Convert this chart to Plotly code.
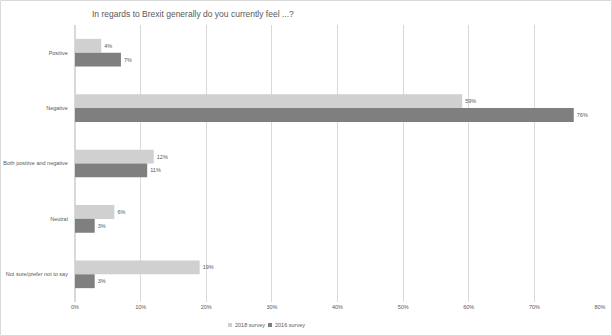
import plotly.graph_objects as go

categories = ["Positive", "Negative", "Both positive and negative", "Neutral", "Not sure/prefer not to say"]
survey_2018 = [4, 59, 12, 6, 19]
survey_2016 = [7, 76, 11, 3, 3]
x_ticks = [0, 10, 20, 30, 40, 50, 60, 70, 80]
x_tick_labels = [f"{v}%" for v in x_ticks]
series_names = ["2018 survey", "2016 survey"]
series_colors = ["#d0d0d0", "#7f7f7f"]

W, H = 612, 336
L, R, T, B = 75, 12, 25, 34
FONT = "Liberation Sans, Arial, sans-serif"

fig = go.Figure()
for name, vals, col in zip(series_names, [survey_2018, survey_2016], series_colors):
    fig.add_trace(go.Bar(
        y=categories, x=vals, orientation="h", name=name,
        marker=dict(color=col, line=dict(width=0)),
        text=[f"{v}%" for v in vals], textposition="outside",
        textfont=dict(size=5.5, color="#595959"), cliponaxis=False,
        showlegend=False,
    ))

pw = W - L - R
ph = H - T - B


def px_x(px):
    return (px - L) / pw


def px_y(py):
    return (H - B - py) / ph


# chart border
fig.add_shape(type="rect", xref="paper", yref="paper",
              x0=px_x(0.5), x1=px_x(W - 0.5), y0=px_y(H - 0.5), y1=px_y(0.5),
              line=dict(color="#d9d9d9", width=1), fillcolor="rgba(0,0,0,0)", layer="below")

# legend (small square keys + labels)
legend_starts = [228, 268]
legend_y = 325
for name, col, x0 in zip(series_names, series_colors, legend_starts):
    fig.add_shape(type="rect", xref="paper", yref="paper",
                  x0=px_x(x0), x1=px_x(x0 + 4), y0=px_y(legend_y + 2), y1=px_y(legend_y - 2),
                  line=dict(width=0), fillcolor=col)
    fig.add_annotation(xref="paper", yref="paper", x=px_x(x0 + 5), y=px_y(legend_y),
                       text=name, showarrow=False, xanchor="left", yanchor="middle",
                       font=dict(size=5.5, color="#595959"))

fig.update_layout(
    width=W, height=H,
    margin=dict(l=L, r=R, t=T, b=B),
    paper_bgcolor="white", plot_bgcolor="white",
    barmode="group", bargap=0.5, bargroupgap=0,
    font=dict(family=FONT, size=5.5, color="#595959"),
    title=dict(text="In regards to Brexit generally do you currently feel ...?",
               x=92 / W, xanchor="left", y=1 - 14 / H, yanchor="middle",
               font=dict(family=FONT, size=8.5, color="#595959"), automargin=False),
    xaxis=dict(range=[0, 80], tickvals=x_ticks, ticktext=x_tick_labels,
               showgrid=True, gridcolor="#d9d9d9", gridwidth=1,
               zeroline=True, zerolinecolor="#d9d9d9",
               tickfont=dict(size=5.5, color="#595959"), ticks="", automargin=False),
    yaxis=dict(autorange="reversed", showgrid=False, ticks="outside", ticklen=5,
               tickcolor="rgba(0,0,0,0)", tickfont=dict(size=5.5, color="#595959"),
               automargin=False),
    showlegend=False,
)

fig.write_html("out.html", config={"displayModeBar": False},
               post_script="document.body.style.margin='0';document.body.style.overflow='hidden';")
